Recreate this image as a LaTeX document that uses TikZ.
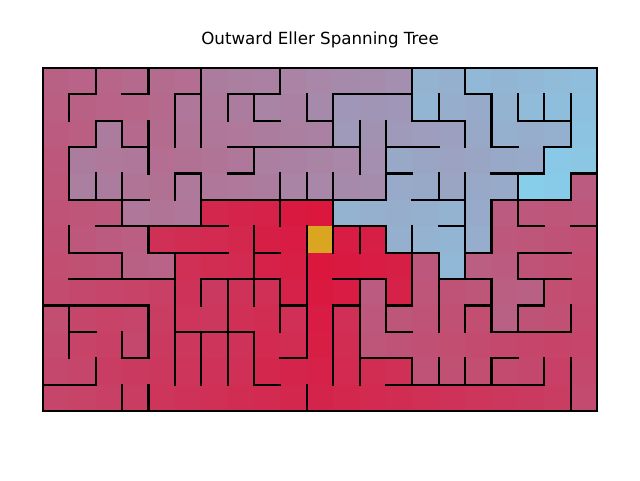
\documentclass[tikz,border=0pt]{standalone}
\usepackage{fontspec}
\setmainfont{DejaVu Sans}
\definecolor{mzcrimson}{RGB}{220,20,60}
\definecolor{mzsky}{RGB}{135,206,235}
\definecolor{mzgold}{RGB}{218,165,32}
\tikzset{
  mzwall/.style={line width=2.1pt, line cap=rect, black},
  mzframe/.style={line width=2.1pt, black}
}
\def\VWalls{2/0/1, 1/1/2, 4/0/1, 6/0/3, 5/1/3, 7/1/2, 2/2/3, 3/2/3, 4/2/4, 1/3/5, 2/4/5, 3/4/6, 5/4/5, 6/4/6, 1/6/7, 4/6/7,
9/0/1, 8/1/2, 10/1/2, 11/1/3, 12/2/4, 13/2/5, 8/3/4, 9/4/6, 10/4/5, 11/4/5, 8/6/9, 10/6/11, 11/5/7, 12/6/7, 13/6/7, 14/6/9,
14/0/2, 16/0/1, 17/1/3, 15/1/2, 16/2/3, 18/1/2, 19/1/2, 20/1/3, 19/3/4, 15/4/5, 16/4/8, 18/4/6, 17/5/7, 20/4/5,
3/7/8, 5/7/12, 6/8/9, 7/8/12, 1/9/11, 4/9/11, 3/10/11, 6/10/12, 2/11/12, 3/12/13, 4/12/13,
9/8/10, 12/8/12, 11/9/12, 13/8/10, 8/10/12, 14/11/12, 10/12/13,
15/7/10, 18/7/8, 19/8/9, 17/8/10, 16/9/10, 18/9/10, 20/9/10, 15/11/12, 16/11/12, 17/11/12, 19/11/12, 20/11/13}
\def\HWalls{1/1/2, 1/3/4, 1/5/6, 1/7/9, 2/2/3, 3/3/4, 3/1/2, 5/1/4, 4/5/6, 4/7/8, 5/6/13, 6/2/7,
2/8/9, 2/10/11, 1/11/14, 3/7/12, 3/13/15, 4/13/14, 5/14/16, 6/11/13,
1/16/17, 3/17/18, 2/14/16, 2/18/20, 3/19/20, 4/17/19, 5/17/20, 4/20/21, 6/18/19, 6/20/21, 6/15/16,
7/1/3, 8/1/5, 7/4/7, 8/6/9, 9/0/4, 10/1/2, 11/3/4, 10/5/8, 12/0/2,
7/8/9, 7/13/15, 9/9/10, 8/11/13, 9/11/12, 9/13/14, 10/13/14, 12/8/9, 11/9/10, 11/12/14, 12/13/19,
8/15/17, 7/16/17, 9/16/17, 7/18/20, 8/18/20, 9/18/19, 10/17/20, 11/17/18}
\ExplSyntaxOn
\intarray_new:Nn \g_mz_rw_intarray {273}
\intarray_new:Nn \g_mz_bw_intarray {273}
\intarray_new:Nn \g_mz_d_intarray {273}
\seq_new:N \g_mz_queue_seq
\seq_new:N \g_mz_cyc_seq
\int_new:N \g_mz_max_int
\int_new:N \l_mz_cd_int
\int_new:N \l_mz_ci_int
\int_new:N \l_mz_cj_int
\int_new:N \l_mz_ni_int
\int_new:N \l_mz_nj_int
\tl_new:N \l_mz_item_tl
\tl_new:N \MzCycles
\cs_new:Npn \mz_idx:nn #1#2 { (#2) * 21 + (#1) + 1 }
\cs_new_protected:Npn \mz_v:nnn #1#2#3
  {
    \bool_if:nT { \int_compare_p:nNn {#1} > {0} && \int_compare_p:nNn {#1} < {21} }
      {
        \int_step_inline:nnn {#2} {#3 - 1}
          { \intarray_gset:Nnn \g_mz_rw_intarray { ##1 * 21 + #1 } {1} }
      }
  }
\cs_new_protected:Npn \mz_h:nnn #1#2#3
  {
    \bool_if:nT { \int_compare_p:nNn {#1} > {0} && \int_compare_p:nNn {#1} < {13} }
      {
        \int_step_inline:nnn {#2} {#3 - 1}
          { \intarray_gset:Nnn \g_mz_bw_intarray { (#1 - 1) * 21 + ##1 + 1 } {1} }
      }
  }
\cs_new_protected:Npn \mz_vparse:w #1/#2/#3 \q_stop { \mz_v:nnn {#1}{#2}{#3} }
\cs_new_protected:Npn \mz_hparse:w #1/#2/#3 \q_stop { \mz_h:nnn {#1}{#2}{#3} }
\cs_new_protected:Npn \mz_try:nn #1#2
  {
    \int_set:Nn \l_mz_ni_int {#1}
    \int_set:Nn \l_mz_nj_int {#2}
    \int_compare:nNnTF
      { \intarray_item:Nn \g_mz_d_intarray { \mz_idx:nn {\l_mz_ni_int} {\l_mz_nj_int} } } = {0}
      {
        \intarray_gset:Nnn \g_mz_d_intarray { \mz_idx:nn {\l_mz_ni_int} {\l_mz_nj_int} } { \l_mz_cd_int + 1 }
        \seq_gput_right:Nx \g_mz_queue_seq { { \int_use:N \l_mz_ni_int } { \int_use:N \l_mz_nj_int } }
        \int_gset:Nn \g_mz_max_int { \int_max:nn { \g_mz_max_int } { \l_mz_cd_int } }
      }
      {
        \int_compare:nNnF
          { \intarray_item:Nn \g_mz_d_intarray { \mz_idx:nn {\l_mz_ni_int} {\l_mz_nj_int} } } = { \l_mz_cd_int - 1 }
          {
            \seq_gput_right:Nx \g_mz_cyc_seq
              { \int_use:N \l_mz_ci_int / \int_use:N \l_mz_cj_int / \int_use:N \l_mz_ni_int / \int_use:N \l_mz_nj_int }
          }
      }
  }
\cs_new_protected:Npn \mz_visit:nn #1#2
  {
    \int_set:Nn \l_mz_ci_int {#1}
    \int_set:Nn \l_mz_cj_int {#2}
    \int_set:Nn \l_mz_cd_int { \intarray_item:Nn \g_mz_d_intarray { \mz_idx:nn {#1} {#2} } }
    \int_compare:nNnT {#1} < {20}
      {
        \int_compare:nNnF { \intarray_item:Nn \g_mz_rw_intarray { \mz_idx:nn {#1} {#2} } } = {1}
          { \mz_try:nn { #1 + 1 } {#2} }
      }
    \int_compare:nNnT {#1} > {0}
      {
        \int_compare:nNnF { \intarray_item:Nn \g_mz_rw_intarray { \mz_idx:nn {#1 - 1} {#2} } } = {1}
          { \mz_try:nn { #1 - 1 } {#2} }
      }
    \int_compare:nNnT {#2} < {12}
      {
        \int_compare:nNnF { \intarray_item:Nn \g_mz_bw_intarray { \mz_idx:nn {#1} {#2} } } = {1}
          { \mz_try:nn {#1} { #2 + 1 } }
      }
    \int_compare:nNnT {#2} > {0}
      {
        \int_compare:nNnF { \intarray_item:Nn \g_mz_bw_intarray { \mz_idx:nn {#1} {#2 - 1} } } = {1}
          { \mz_try:nn {#1} { #2 - 1 } }
      }
  }
\cs_new_protected:Npn \mz_run:
  {
    \clist_map_inline:Nn \VWalls { \mz_vparse:w ##1 \q_stop }
    \clist_map_inline:Nn \HWalls { \mz_hparse:w ##1 \q_stop }
    \intarray_gset:Nnn \g_mz_d_intarray { \mz_idx:nn {10} {6} } {1}
    \seq_gput_right:Nn \g_mz_queue_seq { {10} {6} }
    \bool_until_do:nn { \seq_if_empty_p:N \g_mz_queue_seq }
      {
        \seq_gpop_left:NN \g_mz_queue_seq \l_mz_item_tl
        \exp_after:wN \mz_visit:nn \l_mz_item_tl
      }
    \tl_gset:Nx \MzCycles { \seq_use:Nn \g_mz_cyc_seq {,} }
  }
\cs_new:Npn \MzPct #1#2
  {
    \int_compare:nNnTF { \intarray_item:Nn \g_mz_d_intarray { \mz_idx:nn {#1} {#2} } } = {0}
      { 0 }
      { \fp_eval:n { round( 100 * ( \intarray_item:Nn \g_mz_d_intarray { \mz_idx:nn {#1} {#2} } - 1 ) / \g_mz_max_int , 3 ) } }
  }
\cs_new:Npn \MzDist #1#2 { \int_eval:n { \intarray_item:Nn \g_mz_d_intarray { \mz_idx:nn {#1} {#2} } - 1 } }
\cs_new:Npn \MzMax { \int_use:N \g_mz_max_int }
\mz_run:
\ExplSyntaxOff
\begin{document}
\begin{tikzpicture}[x=1pt,y=-1pt]
\useasboundingbox (0,0) rectangle (640,480);
\fill[white] (0,0) rectangle (640,480);
\node[anchor=base, font=\fontsize{16.7}{20}\selectfont, inner sep=0pt] (title) at (320,44) {Outward Eller Spanning Tree};
\begin{scope}[shift={(43,68)}, x=26.381pt, y=-26.385pt]
  \foreach \i in {0,...,20} {
    \foreach \j in {0,...,12} {
      \edef\mzp{\MzPct{\i}{\j}}
      \colorlet{mzcell}{mzsky!\mzp!mzcrimson}
      \fill[mzcell] (\i,\j) rectangle ++(1,1);
    }
  }
  \fill[mzgold] (10,6) rectangle (11,7);
  \foreach \x/\a/\b in \VWalls { \draw[mzwall] (\x,\a) -- (\x,\b); }
  \foreach \y/\a/\b in \HWalls { \draw[mzwall] (\a,\y) -- (\b,\y); }
  \draw[mzframe] (0,0) rectangle (21,13);
  \ifx\MzCycles\empty\else
  \foreach \a/\b/\c/\d in \MzCycles { \draw[green, line width=3pt] (\a+0.5,\b+0.5) -- (\c+0.5,\d+0.5); }
  \fi
\end{scope}
\end{tikzpicture}
\end{document}
